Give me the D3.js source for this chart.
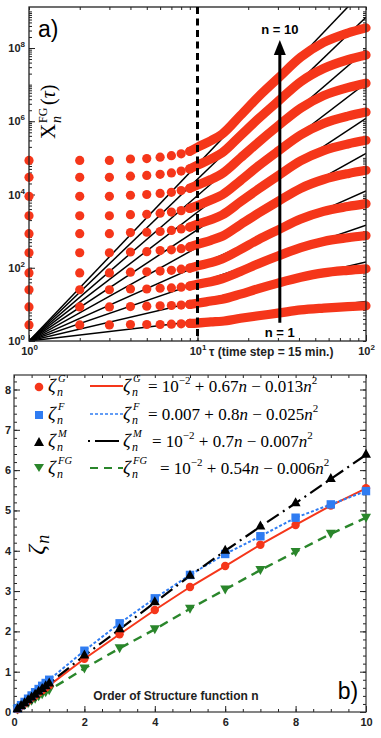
<!DOCTYPE html>
<html>
<head>
<meta charset="utf-8">
<script src="https://cdn.jsdelivr.net/npm/d3@7"></script>
<style>
body { margin: 0; background: #fff; }
svg { display: block; }
.tick text { font-family: "Liberation Sans", Arial, sans-serif; font-weight: bold; font-size: 11px; fill: #222; }
.tick line, .domain { stroke: #222; }
</style>
</head>
<body>
<svg id="chart" width="381" height="738"></svg>
<script>
// ---- panel a data: log10 of X_n^FG(tau), one row per n = 1..10
const tauSamples = [1, 2, 3, 4, 5, 6, 7, 8, 9, 10, 12, 14, 18, 23, 30, 41, 56, 78, 100];
const logXn1  = [0.44,0.44,0.44,0.45,0.45,0.45,0.46,0.47,0.48,0.49,0.52,0.54,0.62,0.69,0.76,0.85,0.90,0.94,0.96];
const logXn2  = [0.93,0.93,0.93,0.94,0.95,0.96,0.97,0.98,1.00,1.03,1.09,1.14,1.28,1.43,1.58,1.74,1.86,1.93,1.97];
const logXn3  = [1.40,1.40,1.40,1.42,1.42,1.44,1.45,1.47,1.50,1.55,1.62,1.70,1.90,2.11,2.32,2.55,2.72,2.82,2.88];
const logXn4  = [1.86,1.86,1.86,1.88,1.89,1.91,1.93,1.96,1.99,2.05,2.14,2.24,2.50,2.77,3.03,3.33,3.54,3.67,3.75];
const logXn5  = [2.41,2.41,2.41,2.43,2.44,2.47,2.49,2.52,2.57,2.64,2.75,2.86,3.18,3.49,3.81,4.17,4.41,4.57,4.66];
const logXn6  = [2.93,2.93,2.93,2.96,2.97,2.99,3.02,3.06,3.11,3.19,3.31,3.44,3.80,4.15,4.51,4.92,5.20,5.38,5.48];
const logXn7  = [3.42,3.42,3.42,3.45,3.46,3.49,3.52,3.56,3.62,3.70,3.85,3.99,4.38,4.78,5.18,5.63,5.94,6.14,6.25];
const logXn8  = [3.95,3.95,3.95,3.98,4.00,4.03,4.06,4.11,4.17,4.26,4.41,4.57,5.00,5.43,5.87,6.36,6.70,6.92,7.04];
const logXn9  = [4.47,4.47,4.47,4.50,4.52,4.55,4.59,4.64,4.70,4.80,4.97,5.14,5.61,6.07,6.54,7.08,7.44,7.68,7.81];
const logXn10 = [4.93,4.93,4.93,4.97,4.98,5.02,5.06,5.11,5.18,5.29,5.47,5.65,6.16,6.67,7.17,7.75,8.15,8.41,8.55];
const seriesA = [logXn1, logXn2, logXn3, logXn4, logXn5, logXn6, logXn7, logXn8, logXn9, logXn10];

// ---- panel b data: scaling exponents vs order n
const orders  = [0.1,0.2,0.3,0.4,0.5,0.6,0.7,0.8,0.9,1,2,3,4,5,6,7,8,9,10];
const zetaG   = [0.07,0.14,0.21,0.28,0.35,0.41,0.48,0.54,0.60,0.66,1.32,1.93,2.53,3.10,3.62,4.15,4.64,5.12,5.55];
const zetaF   = [0.09,0.17,0.25,0.33,0.41,0.49,0.57,0.65,0.72,0.80,1.52,2.20,2.82,3.40,3.92,4.36,4.82,5.15,5.48];
const zetaM   = [0.07,0.15,0.22,0.29,0.36,0.43,0.50,0.57,0.64,0.71,1.40,2.05,2.72,3.38,4.00,4.60,5.18,5.78,6.38];
const zetaFG  = [0.06,0.11,0.17,0.22,0.28,0.33,0.39,0.44,0.49,0.54,1.08,1.58,2.05,2.56,3.04,3.52,3.97,4.42,4.82];

const legendKeys = ["G", "F", "M", "FG"];
const legendFits = [
  ["10", "\u22122", " + 0.67", "0.013"],
  ["0.007", "", " + 0.8", "0.025"],
  ["10", "\u22122", " + 0.7", "0.007"],
  ["10", "\u22122", " + 0.54", "0.006"]
];

const red = "#f5361a", blue = "#2f7cf2", green = "#2a862b";
const sans = '"Liberation Sans", Arial, sans-serif';
const serif = '"Liberation Serif", "DejaVu Serif", serif';

const svg = d3.select("#chart");

// =============== panel a ===============
const xA = d3.scaleLog().domain([1, 100]).range([29, 366]);
const yA = d3.scaleLog().domain([1, Math.pow(10, 9.12)]).range([341, 7]);
const gA = svg.append("g");

const minorXA = [], minorYA = [];
[0, 1].forEach(d => d3.range(1, 10).forEach(m => minorXA.push(m * Math.pow(10, d))));
minorXA.push(100);
d3.range(0, 10).forEach(d => d3.range(1, 10).forEach(m => {
  const v = m * Math.pow(10, d);
  if (v <= yA.domain()[1]) minorYA.push(v);
}));

function powLabels(sel) {
  sel.selectAll("text").each(function(d) {
    const t = d3.select(this).text(null);
    t.append("tspan").text("10");
    t.append("tspan").attr("dy", -5).style("font-size", "8px").text(Math.round(Math.log10(d)));
  });
}

const [a0, a1] = xA.range(), [b0, b1] = yA.range();
gA.append("g").attr("transform", `translate(0,${b0})`)
  .call(d3.axisBottom(xA).tickValues(minorXA).tickSize(-3).tickFormat(""));
gA.append("g").attr("transform", `translate(0,${b1})`)
  .call(d3.axisTop(xA).tickValues(minorXA).tickSize(-3).tickFormat(""));
gA.append("g").attr("transform", `translate(${a0},0)`)
  .call(d3.axisLeft(yA).tickValues(minorYA).tickSize(-3).tickFormat(""));
gA.append("g").attr("transform", `translate(${a1},0)`)
  .call(d3.axisRight(yA).tickValues(minorYA).tickSize(-3).tickFormat(""));
gA.append("g").attr("transform", `translate(0,${b0})`)
  .call(d3.axisBottom(xA).tickValues([1, 10, 100]).tickSize(-6).tickPadding(6))
  .call(powLabels);
gA.append("g").attr("transform", `translate(${a0},0)`)
  .call(d3.axisLeft(yA).tickValues([1, 1e2, 1e4, 1e6, 1e8]).tickSize(-6).tickPadding(4))
  .call(powLabels);
gA.selectAll(".domain").remove();

gA.append("defs").append("clipPath").attr("id", "clipA")
  .append("rect").attr("x", a0).attr("y", b1).attr("width", a1 - a0).attr("height", b0 - b1);

// power-law fits tau^zeta_n^FG (drawn beneath the data)
const fitsA = zetaFG.slice(9);
gA.append("g").attr("clip-path", "url(#clipA)").selectAll("line").data(fitsA).join("line")
  .attr("x1", xA(1)).attr("y1", yA(1))
  .attr("x2", xA(100)).attr("y2", z => yA(Math.pow(100, z)))
  .attr("stroke", "#000").attr("stroke-width", 1.5);

// red structure functions: dots for small tau, dense band beyond
const dots = [];
seriesA.forEach(row => row.forEach((v, i) => { if (tauSamples[i] <= 9) dots.push([tauSamples[i], v]); }));
gA.append("g").selectAll("circle").data(dots).join("circle")
  .attr("cx", d => xA(d[0])).attr("cy", d => yA(Math.pow(10, d[1])))
  .attr("r", 4.6).attr("fill", red);

const bandLine = d3.line().curve(d3.curveMonotoneX)
  .x(d => xA(d[0])).y(d => yA(Math.pow(10, d[1])));
gA.append("g").selectAll("path").data(seriesA).join("path")
  .attr("d", row => bandLine(row.map((v, i) => [tauSamples[i], v]).filter(d => d[0] >= 9)))
  .attr("fill", "none").attr("stroke", red).attr("stroke-width", 9.2)
  .attr("stroke-linecap", "round").attr("stroke-linejoin", "round");

gA.append("rect").attr("x", a0).attr("y", b1).attr("width", a1 - a0).attr("height", b0 - b1)
  .attr("fill", "none").attr("stroke", "#222").attr("stroke-width", 1.3);

// dashed line at tau = 10
gA.append("line").attr("x1", xA(10)).attr("x2", xA(10)).attr("y1", b1).attr("y2", b0)
  .attr("stroke", "#000").attr("stroke-width", 3).attr("stroke-dasharray", "7,4.5");

// arrow n = 1 -> n = 10
const arrowX = xA(30.8);
gA.append("line").attr("x1", arrowX).attr("x2", arrowX).attr("y1", yA(Math.pow(10, 0.5))).attr("y2", yA(Math.pow(10, 7.85)))
  .attr("stroke", "#000").attr("stroke-width", 3);
const tipY = yA(Math.pow(10, 8.22));
gA.append("path")
  .attr("d", `M${arrowX},${tipY} L${arrowX - 6},${tipY + 15} L${arrowX + 6},${tipY + 15} Z`)
  .attr("fill", "#000");
gA.append("text").attr("x", arrowX).attr("y", tipY - 6).attr("text-anchor", "middle")
  .style("font", `bold 13px ${sans}`).text("n = 10");
gA.append("text").attr("x", arrowX).attr("y", b0 - 4).attr("text-anchor", "middle")
  .style("font", `bold 13px ${sans}`).text("n = 1");

gA.append("text").attr("x", xA(11.7)).attr("y", b0 + 15)
  .style("font", `bold 12px ${sans}`).attr("fill", "#222").text("\u03c4 (time step = 15 min.)");
gA.append("text").attr("x", a0 + 9).attr("y", b1 + 30)
  .style("font", `23px ${sans}`).text("a)");

const yLabA = gA.append("g").attr("transform", `translate(${a0 + 26},${b1 + 132}) rotate(-90)`)
  .style("font-family", serif);
yLabA.append("text").attr("x", 0).attr("y", 0).style("font-size", "21px").text("X");
yLabA.append("text").attr("x", 16).attr("y", -8).style("font-size", "12px").text("FG");
yLabA.append("text").attr("x", 16).attr("y", 6).style("font-size", "14px").style("font-style", "italic").text("n");
yLabA.append("text").attr("x", 34).attr("y", 0).style("font-size", "20px")
  .text("(").append("tspan").style("font-style", "italic").text("\u03c4")
  .select(function() { return this.parentNode; }).append("tspan").text(")");

// =============== panel b ===============
const xB = d3.scaleLinear().domain([0, 10]).range([14, 366]);
const yB = d3.scaleLinear().domain([0, 8.36]).range([712, 375]);
const gB = svg.append("g");
const [c0, c1] = xB.range(), [e0, e1] = yB.range();

gB.append("g").attr("transform", `translate(0,${e0})`)
  .call(d3.axisBottom(xB).tickValues(d3.range(0, 10.01, 0.5)).tickSize(-3).tickFormat(""));
gB.append("g").attr("transform", `translate(0,${e1})`)
  .call(d3.axisTop(xB).tickValues(d3.range(0, 10.01, 0.5)).tickSize(-3).tickFormat(""));
gB.append("g").attr("transform", `translate(${c0},0)`)
  .call(d3.axisLeft(yB).tickValues(d3.range(0, 8.3, 0.2)).tickSize(-3).tickFormat(""));
gB.append("g").attr("transform", `translate(${c1},0)`)
  .call(d3.axisRight(yB).tickValues(d3.range(0, 8.3, 0.2)).tickSize(-3).tickFormat(""));
gB.append("g").attr("transform", `translate(0,${e0})`)
  .call(d3.axisBottom(xB).tickValues(d3.range(0, 11, 2)).tickSize(-6).tickPadding(6));
gB.append("g").attr("transform", `translate(${c0},0)`)
  .call(d3.axisLeft(yB).tickValues(d3.range(0, 9, 1)).tickSize(-6).tickPadding(3));
gB.append("g").attr("transform", `translate(${c1},0)`)
  .call(d3.axisRight(yB).tickValues(d3.range(0, 9, 1)).tickSize(-6).tickFormat(""));
gB.selectAll(".domain").remove();
gB.append("rect").attr("x", c0).attr("y", e1).attr("width", c1 - c0).attr("height", e0 - e1)
  .attr("fill", "none").attr("stroke", "#333").attr("stroke-width", 1.2);

// legend
const legendRowY = [389, 417, 444, 471];
const legendDash = [null, "3,2", "2,5,22,0", "8,6"];
const legendColor = [red, blue, "#000", green];
legendKeys.forEach((k, i) => {
  const y = legendRowY[i];
  const row = gB.append("g");
  // symbol
  if (i === 0) row.append("circle").attr("cx", 39).attr("cy", y - 2).attr("r", 4.3).attr("fill", red);
  if (i === 1) row.append("rect").attr("x", 35).attr("y", y - 6).attr("width", 8).attr("height", 8).attr("fill", blue);
  if (i === 2) row.append("path").attr("d", `M39,${y - 7} L44,${y + 2} L34,${y + 2} Z`).attr("fill", "#000");
  if (i === 3) row.append("path").attr("d", `M34,${y - 7} L44,${y - 7} L39,${y + 1} Z`).attr("fill", green);
  const sym = (x) => {
    const t = row.append("text").attr("x", x).attr("y", y + 3).style("font-family", serif).style("font-style", "italic");
    t.append("tspan").style("font-size", "19px").text("\u03b6");
    t.append("tspan").attr("x", x + 10).attr("dy", -10).style("font-size", "10.5px").text(k);
    t.append("tspan").attr("x", x + 9).attr("dy", 14).style("font-size", "12px").text("n");
  };
  sym(48);
  // line sample
  const ls = row.append("line").attr("x1", i === 2 ? 88 : 90).attr("x2", 123).attr("y1", y - 3).attr("y2", y - 3)
    .attr("stroke", legendColor[i]).attr("stroke-width", i === 1 ? 1.5 : 2);
  if (legendDash[i]) ls.attr("stroke-dasharray", legendDash[i]);
  sym(123);
  const f = legendFits[i];
  const startX = k.length > 1 ? 160 : (k === "M" ? 152 : 148);
  const t = row.append("text").attr("x", startX).attr("y", y + 3).style("font", `17px ${serif}`);
  t.append("tspan").text("= " + f[0]);
  if (f[1]) {
    t.append("tspan").attr("dy", -8).style("font-size", "11px").text(f[1]);
    t.append("tspan").attr("dy", 8).text(f[2]);
  } else {
    t.append("tspan").text(f[2]);
  }
  t.append("tspan").style("font-style", "italic").text("n");
  t.append("tspan").text(" \u2212 " + f[3]);
  t.append("tspan").style("font-style", "italic").text("n");
  t.append("tspan").attr("dy", -8).style("font-size", "11px").text("2");
});

// data series
const lineB = zeta => d3.line().x((d, i) => xB(orders[i])).y(d => yB(d))(zeta);
gB.append("path").attr("d", lineB(zetaFG)).attr("fill", "none").attr("stroke", green)
  .attr("stroke-width", 2.4).attr("stroke-dasharray", "9,6");
gB.append("path").attr("d", lineB(zetaG)).attr("fill", "none").attr("stroke", red).attr("stroke-width", 2);
gB.append("path").attr("d", lineB(zetaF)).attr("fill", "none").attr("stroke", blue)
  .attr("stroke-width", 2).attr("stroke-dasharray", "3,2");
gB.append("path").attr("d", lineB(zetaM)).attr("fill", "none").attr("stroke", "#000")
  .attr("stroke-width", 2.2).attr("stroke-dasharray", "14,5,2,5");

gB.append("g").selectAll("path").data(zetaFG).join("path")
  .attr("transform", (d, i) => `translate(${xB(orders[i])},${yB(d)})`)
  .attr("d", "M-5,-4 L5,-4 L0,5 Z").attr("fill", green);
gB.append("g").selectAll("circle").data(zetaG).join("circle")
  .attr("cx", (d, i) => xB(orders[i])).attr("cy", d => yB(d)).attr("r", 4.2).attr("fill", red);
gB.append("g").selectAll("rect").data(zetaF).join("rect")
  .attr("x", (d, i) => xB(orders[i]) - 4.2).attr("y", d => yB(d) - 4.2)
  .attr("width", 8.4).attr("height", 8.4).attr("fill", blue);
gB.append("g").selectAll("path").data(zetaM).join("path")
  .attr("transform", (d, i) => `translate(${xB(orders[i])},${yB(d)})`)
  .attr("d", "M0,-6 L5,3 L-5,3 Z").attr("fill", "#000");

gB.append("text").attr("x", xB(2.25)).attr("y", e0 - 12)
  .style("font", `bold 12px ${sans}`).attr("fill", "#222").text("Order of Structure function n");
gB.append("text").attr("x", xB(9.2)).attr("y", e0 - 13)
  .style("font", `23px ${sans}`).text("b)");
const yLabB = gB.append("g").attr("transform", `translate(${c0 + 30},${yB(3.9)}) rotate(-90)`);
yLabB.append("text").style("font", `italic 24px ${serif}`).text("\u03b6");
yLabB.append("text").attr("x", 11).attr("y", 5).style("font", `italic 18px ${serif}`).text("n");
</script>
</body>
</html>
